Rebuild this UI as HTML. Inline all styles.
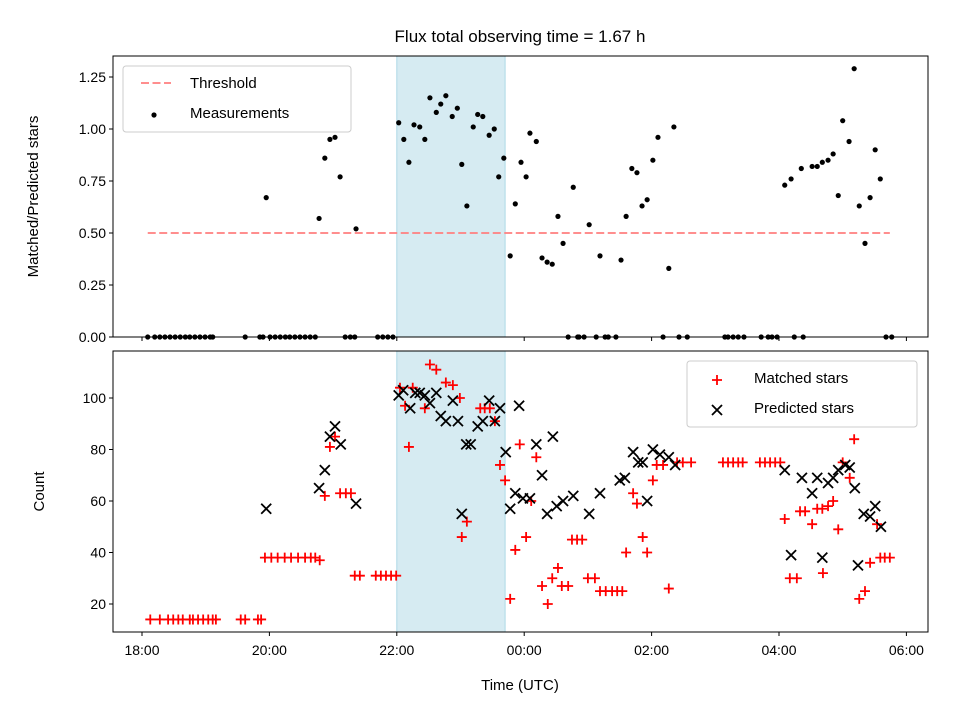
<!DOCTYPE html>
<html><head><meta charset="utf-8"><style>
body{margin:0;background:#fff}
svg{font-family:"Liberation Sans","DejaVu Sans",sans-serif}
</style></head><body>
<svg id="chart" width="960" height="720" xmlns="http://www.w3.org/2000/svg">
<rect width="960" height="720" fill="#fff"/>
<text x="520" y="42" font-size="17" text-anchor="middle">Flux total observing time = 1.67 h</text>
<g id="topPanel"></g>
<g id="botPanel"></g>
</svg>
<script>
// times in hours since 18:00
const ratioTimes=[0.09,0.20,0.28,0.36,0.44,0.52,0.60,0.68,0.75,0.83,0.91,0.99,1.07,1.11,1.62,1.85,1.90,2.01,2.09,2.17,2.25,2.32,2.40,2.48,2.56,2.64,2.72,3.19,3.27,3.34,3.70,3.78,3.86,3.94,
6.69,6.84,6.86,6.94,7.13,7.27,7.32,7.44,8.18,8.43,8.56,9.15,9.20,9.28,9.36,9.45,9.72,9.83,9.89,9.97,10.24,10.38,11.68,11.77,
1.95,2.78,2.87,2.95,3.03,3.11,3.36,4.03,4.11,4.19,4.27,4.36,4.44,4.52,4.62,4.69,4.77,4.87,4.95,5.02,5.10,5.20,5.27,5.35,5.45,5.53,5.60,5.68,5.78,5.86,5.95,6.03,6.09,6.19,6.28,6.36,6.44,6.53,6.61,6.77,7.02,7.19,7.52,7.60,7.69,7.77,7.85,7.93,8.02,8.10,8.27,8.35,10.09,10.19,10.35,10.52,10.60,10.68,10.77,10.85,10.93,11.00,11.10,11.18,11.26,11.35,11.43,11.51,11.59];
const ratioValues=[0,0,0,0,0,0,0,0,0,0,0,0,0,0,0,0,0,0,0,0,0,0,0,0,0,0,0,0,0,0,0,0,0,0,
0,0,0,0,0,0,0,0,0,0,0,0,0,0,0,0,0,0,0,0,0,0,0,0,
0.67,0.57,0.86,0.95,0.96,0.77,0.52,1.03,0.95,0.84,1.02,1.01,0.95,1.15,1.08,1.12,1.16,1.06,1.10,0.83,0.63,1.01,1.07,1.06,0.97,1.00,0.77,0.86,0.39,0.64,0.84,0.77,0.98,0.94,0.38,0.36,0.35,0.58,0.45,0.72,0.54,0.39,0.37,0.58,0.81,0.79,0.63,0.66,0.85,0.96,0.33,1.01,0.73,0.76,0.81,0.82,0.82,0.84,0.85,0.88,0.68,1.04,0.94,1.29,0.63,0.45,0.67,0.90,0.76];
const matchedTimes=[0.13,0.28,0.41,0.49,0.57,0.64,0.75,0.80,0.88,0.96,1.04,1.11,1.16,1.55,1.62,1.82,1.87,1.93,2.03,2.13,2.24,2.34,2.45,2.56,2.65,2.72,2.79,3.34,3.42,3.67,3.75,3.83,3.91,3.99,2.87,2.95,3.03,3.11,3.20,3.28,
4.05,4.13,4.19,4.25,4.44,4.52,4.62,4.77,4.88,4.99,5.02,5.10,5.31,5.38,5.46,5.54,5.62,5.70,5.78,5.86,5.93,6.03,6.11,6.19,6.28,6.37,6.44,6.53,6.59,6.69,6.75,6.83,6.91,7.00,7.11,7.19,7.28,7.38,7.46,7.54,7.60,7.71,7.77,7.86,7.93,8.02,8.08,8.18,8.27,8.40,8.49,8.62,9.12,9.20,9.28,9.36,9.43,9.70,9.78,9.86,9.94,10.02,10.09,10.17,10.28,10.33,10.41,10.52,10.60,10.68,10.69,10.77,10.85,10.93,11.00,11.11,11.18,11.26,11.35,11.43,11.54,11.59,11.66,11.74];
const matchedCounts=[14,14,14,14,14,14,14,14,14,14,14,14,14,14,14,14,14,38,38,38,38,38,38,38,38,38,37,31,31,31,31,31,31,31,62,81,85,63,63,63,
104,97,81,104,96,113,111,106,105,100,46,52,96,96,96,91,74,68,22,41,82,46,60,77,27,20,30,34,27,27,45,45,45,30,30,25,25,25,25,25,40,63,59,46,40,68,74,74,26,75,75,75,75,75,75,75,75,75,75,75,75,75,53,30,30,56,56,51,57,57,32,58,60,49,75,69,84,22,25,36,51,38,38,38];
const predictedTimes=[1.95,2.78,2.87,2.95,3.03,3.12,3.36,4.03,4.10,4.21,4.29,4.36,4.44,4.52,4.62,4.69,4.77,4.88,4.96,5.02,5.09,5.16,5.27,5.35,5.45,5.54,5.62,5.71,5.78,5.86,5.92,5.98,6.09,6.19,6.28,6.36,6.45,6.51,6.61,6.77,7.02,7.19,7.50,7.58,7.71,7.79,7.86,7.93,8.02,8.13,8.27,8.37,10.09,10.19,10.36,10.52,10.60,10.68,10.77,10.85,10.93,11.04,11.11,11.19,11.24,11.33,11.43,11.51,11.60];
const predictedCounts=[57,65,72,85,89,82,59,101,103,96,102,102,101,98,102,93,91,99,91,55,82,82,89,91,99,91,96,79,57,63,97,61,61,82,70,55,85,58,60,62,55,63,68,69,79,75,75,60,80,78,77,74,72,39,69,63,69,38,67,69,72,74,73,65,35,55,54,58,50];
const xTickHours=[0,2,4,6,8,10,12];
const xTickLabels=["18:00","20:00","22:00","00:00","02:00","04:00","06:00"];
const ratioTicks=[0,0.25,0.5,0.75,1.0,1.25];
const countTicks=[20,40,60,80,100];
const threshold=0.5, thrStart=0.09, thrEnd=11.74, spanStart=4.0, spanEnd=5.70;

const NS="http://www.w3.org/2000/svg";
const L=113,R=928,T1=56,B1=337,T2=351,B2=632;
const X=h=>142+h*63.7;
const Y1=v=>337-v*208;
const Y2=v=>398-(v-100)*2.575;
function mk(p,tag,a){const e=document.createElementNS(NS,tag);for(const k in a)e.setAttribute(k,a[k]);p.appendChild(e);return e;}
const topG=document.getElementById('topPanel'),botG=document.getElementById('botPanel');

function frame(g,T,B,ticks,Y,fmt,showX,ylabel,ylx){
  const sp=mk(g,'rect',{x:X(spanStart),y:T,width:X(spanEnd)-X(spanStart),height:B-T,fill:'#add8e6','fill-opacity':0.5,stroke:'#add8e6'});
  
  
  ticks.forEach(v=>{
    const y=Y(v);
    mk(g,'line',{x1:L-4,x2:L,y1:y,y2:y,stroke:'#000','stroke-width':1});
    const t=mk(g,'text',{x:L-7,y:y+5,'font-size':14,'text-anchor':'end'});t.textContent=fmt(v);
    
    
  });
  xTickHours.forEach((h,i)=>{
    const x=X(h);
    mk(g,'line',{x1:x,x2:x,y1:B,y2:B+4,stroke:'#000','stroke-width':1});
    if(showX){const t=mk(g,'text',{x:x,y:B+23,'font-size':14,'text-anchor':'middle'});t.textContent=xTickLabels[i];
      
      }
  });
  const yl=mk(g,'text',{transform:`translate(${ylx},${(T+B)/2}) rotate(-90)`,'font-size':15,'text-anchor':'middle'});yl.textContent=ylabel;
  
  
}
frame(topG,T1,B1,ratioTicks,Y1,v=>v.toFixed(2),false,'Matched/Predicted stars',38);
frame(botG,T2,B2,countTicks,Y2,v=>String(v),true,'Count',44);
const xl=mk(botG,'text',{x:520,y:690,'font-size':15,'text-anchor':'middle'});xl.textContent='Time (UTC)';



const th=mk(topG,'line',{x1:X(thrStart),x2:X(thrEnd),y1:Y1(threshold),y2:Y1(threshold),stroke:'#ff7f7f','stroke-width':1.8,'stroke-dasharray':'8,3.5'});


ratioTimes.forEach((h,i)=>{
  const c=mk(topG,'circle',{cx:X(h),cy:Y1(ratioValues[i]),r:2.6,fill:'#000'});
  
  
});
function plus(g,x,y){return mk(g,'path',{d:`M${x-5},${y}H${x+5}M${x},${y-5}V${y+5}`,stroke:'red','stroke-width':1.8});}
function cross(g,x,y){return mk(g,'path',{d:`M${x-5},${y-5}L${x+5},${y+5}M${x-5},${y+5}L${x+5},${y-5}`,stroke:'#000','stroke-width':1.8});}
matchedTimes.forEach((h,i)=>{
  const p=plus(botG,X(h),Y2(matchedCounts[i]));
  
  
});
predictedTimes.forEach((h,i)=>{
  const p=cross(botG,X(h),Y2(predictedCounts[i]));
  
  
});
const svgRoot=document.getElementById('chart');
[[T1,B1],[T2,B2]].forEach(([T,B])=>{
  const f=mk(svgRoot,'rect',{x:L,y:T,width:R-L,height:B-T,fill:'none',stroke:'#000','stroke-width':1});
  
  
});
function legend(x,y,w,h,items,name){
  const g=mk(svgRoot,'g',{});
  
  
  mk(g,'rect',{x:x,y:y,width:w,height:h,rx:3,fill:'#fff','fill-opacity':0.8,stroke:'#ccc'});
  items.forEach((it,i)=>{
    const cy=y+17+i*30;
    it.draw(g,x+28,cy);
    const t=mk(g,'text',{x:x+67,y:cy+5,'font-size':15});t.textContent=it.label;
    
    
  });
}
legend(123,66,228,66,[
  {label:'Threshold',draw:(g,x,y)=>mk(g,'line',{x1:x-10,x2:x+20,y1:y,y2:y,stroke:'#ff7f7f','stroke-width':1.8,'stroke-dasharray':'8,3.5'})},
  {label:'Measurements',draw:(g,x,y)=>mk(g,'circle',{cx:x+3,cy:y+2,r:2.6,fill:'#000'})}
],'top-legend');
legend(687,361,230,66,[
  {label:'Matched stars',draw:(g,x,y)=>plus(g,x+2,y+2)},
  {label:'Predicted stars',draw:(g,x,y)=>cross(g,x+2,y+2)}
],'bottom-legend');
</script>
</body></html>
